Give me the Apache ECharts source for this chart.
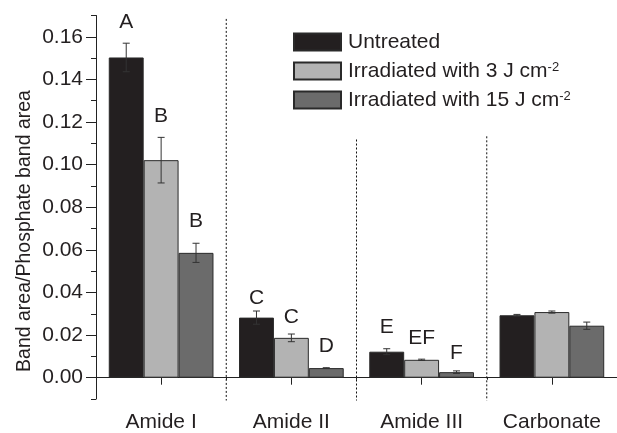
<!DOCTYPE html>
<html><head><meta charset="utf-8">
<script src="https://cdn.jsdelivr.net/npm/echarts@6/dist/echarts.min.js"></script>
<style>html,body{margin:0;padding:0;background:#fff}#c{width:617px;height:433px}</style>
</head><body><div id="c"></div>
<script>
// ---- data ----
const categories = ['Amide I', 'Amide II', 'Amide III', 'Carbonate'];
const seriesNames = ['Untreated', 'Irradiated with 3 J cm-2', 'Irradiated with 15 J cm-2'];
const untreated = [0.1503, 0.0282, 0.0122, 0.0293];
const irr3 = [0.1021, 0.0187, 0.0084, 0.0308];
const irr15 = [0.0586, 0.0045, 0.0026, 0.0244];
const errUntreated = [0.0067, 0.0031, 0.0014, 0.0004];
const errIrr3 = [0.0107, 0.0018, 0.0003, 0.0005];
const errIrr15 = [0.0045, 0.0002, 0.0006, 0.0017];
const lettersUntreated = ['A', 'C', 'E', ''];
const lettersIrr3 = ['B', 'C', 'EF', ''];
const lettersIrr15 = ['B', 'D', 'F', ''];
const letterYUntreated = [0.1670, 0.0371, 0.0235, 0];
const letterYIrr3 = [0.1227, 0.0285, 0.0187, 0];
const letterYIrr15 = [0.0735, 0.0150, 0.0114, 0];
const yTickLabels = ['0.00', '0.02', '0.04', '0.06', '0.08', '0.10', '0.12', '0.14', '0.16'];
const separatorTops = [0.1684, 0.1118, 0.1133]; // dotted separators after category 0,1,2

// ---- styles ----
const FONT = '"Liberation Sans", Arial, sans-serif';
const TXT = '#231f20';
const AX = '#222';
const colors = ['#231f20', '#b3b3b3', '#6b6b6b'];
const BW = 34.9;
const YMIN = -0.01, YMAX = 0.17;

const chart = echarts.init(document.getElementById('c'), null, {renderer: 'canvas'});

const valueSets = [untreated, irr3, irr15];
const errSets = [errUntreated, errIrr3, errIrr15];
const letterSets = [lettersUntreated, lettersIrr3, lettersIrr15];
const letterYSets = [letterYUntreated, letterYIrr3, letterYIrr15];

const barSeries = seriesNames.map((name, k) => ({
  name, type: 'bar', data: valueSets[k], barWidth: BW, barGap: '0%',
  itemStyle: {color: colors[k], borderColor: '#2a2a2a', borderWidth: 1},
  z: 2
}));

const errSeries = seriesNames.map((name, k) => ({
  type: 'custom', z: 4, silent: true,
  data: valueSets[k].map((v, i) => [i, v - errSets[k][i], v + errSets[k][i]]),
  renderItem: (params, api) => {
    const i = api.value(0);
    const lo = api.coord([i, api.value(1)]);
    const hi = api.coord([i, api.value(2)]);
    const x = lo[0] + (k - 1) * BW;
    const c = 3.5;
    return {type: 'group', children: [
      {type: 'line', shape: {x1: x, y1: lo[1], x2: x, y2: hi[1]}, style: {stroke: '#333', lineWidth: 1}},
      {type: 'line', shape: {x1: x - c, y1: lo[1], x2: x + c, y2: lo[1]}, style: {stroke: '#333', lineWidth: 1}},
      {type: 'line', shape: {x1: x - c, y1: hi[1], x2: x + c, y2: hi[1]}, style: {stroke: '#333', lineWidth: 1}}
    ]};
  }
}));

const letterSeries = seriesNames.map((name, k) => ({
  type: 'custom', z: 5, silent: true,
  data: letterYSets[k].map((y, i) => [i, y, letterSets[k][i]]),
  renderItem: (params, api) => {
    const i = api.value(0);
    const txt = letterSets[k][i];
    if (!txt) return null;
    const p = api.coord([i, api.value(1)]);
    return {type: 'text', x: p[0] + (k - 1) * BW, y: p[1],
      style: {text: txt, fontSize: 21, fontFamily: FONT, fill: TXT, align: 'center', verticalAlign: 'middle'}};
  }
}));

const sepSeries = {
  type: 'custom', z: 1, silent: true,
  data: separatorTops.map((t, i) => [i, t]),
  renderItem: (params, api) => {
    const i = api.value(0);
    const top = api.coord([i, api.value(1)]);
    const bot = api.coord([i, YMIN]);
    const x = top[0] + api.size([1, 0])[0] / 2;
    return {type: 'line', shape: {x1: x, y1: top[1], x2: x, y2: bot[1] + 1.5},
      style: {stroke: '#111', lineWidth: 1, lineDash: [2, 2]}};
  }
};

chart.setOption({
  animation: false,
  backgroundColor: '#fff',
  textStyle: {fontFamily: FONT},
  grid: {left: 96, right: 0, top: 15.5, bottom: 32, containLabel: false},
  legend: {
    orient: 'vertical', left: 293, top: 31.5, padding: 0, itemWidth: 47, itemHeight: 17, itemGap: 8,
    icon: 'rect', data: seriesNames,
    formatter: (name) => {
      const m = name.match(/^(.*cm)-2$/);
      return m ? '{t|' + m[1] + '}{s|-2}' : '{t|' + name + '}';
    },
    textStyle: {color: TXT, fontFamily: FONT, fontSize: 21, padding: [0, 0, 0, 2],
      rich: {t: {fontSize: 21, fontFamily: FONT, color: TXT},
             s: {fontSize: 13, fontFamily: FONT, color: TXT, verticalAlign: 'top'}}}
  },
  xAxis: [
    {type: 'category', data: categories, position: 'bottom',
      axisLine: {show: true, lineStyle: {color: AX, width: 1}},
      axisTick: {show: true, alignWithLabel: true, length: 7, lineStyle: {color: AX}},
      axisLabel: {fontSize: 21, fontFamily: FONT, color: TXT, margin: 13},
      splitLine: {show: false}},
    {type: 'category', data: categories, position: 'bottom',
      axisLine: {show: false}, axisTick: {show: true, length: 2, lineStyle: {color: AX}},
      axisLabel: {show: false}, splitLine: {show: false}}
  ],
  yAxis: [
    {type: 'value', min: YMIN, max: YMAX, interval: 0.01, position: 'left',
      axisLine: {show: true, lineStyle: {color: AX, width: 1}},
      axisTick: {show: true, length: 5, lineStyle: {color: AX}},
      splitLine: {show: false},
      axisLabel: {fontSize: 21, fontFamily: FONT, color: TXT, margin: 13,
        formatter: (v) => {
          const l = yTickLabels.find(s => Math.abs(parseFloat(s) - v) < 1e-6);
          return l || '';
        }}},
    {type: 'value', min: YMIN, max: YMAX, interval: 0.02, position: 'left',
      axisLine: {show: false}, axisTick: {show: false},
      minorTick: {show: true, splitNumber: 2, length: 10, lineStyle: {color: AX, width: 1}},
      axisLabel: {show: false}, splitLine: {show: false}}
  ],
  graphic: [{
    type: 'text', x: 25, y: 231, rotation: Math.PI / 2,
    style: {text: 'Band area/Phosphate band area', fontSize: 19.5, fontFamily: FONT, fill: TXT,
      align: 'center', verticalAlign: 'middle'}
  }],
  series: [...barSeries, ...errSeries, ...letterSeries, sepSeries]
});
</script>
</body></html>
